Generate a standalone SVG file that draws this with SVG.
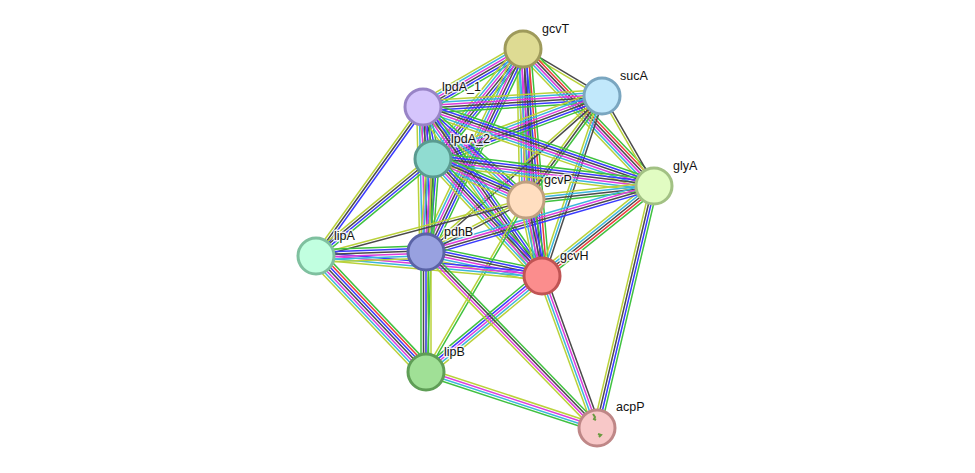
<svg xmlns="http://www.w3.org/2000/svg" width="975" height="473" viewBox="0 0 975 473">
<style>
line{stroke-width:1.2;fill:none}
.g{stroke:#3fc13f}.r{stroke:#ee3b3b}.b{stroke:#3a3aff}.k{stroke:#4a4a4a}.m{stroke:#dc3cdc}.c{stroke:#3cb6dc}.y{stroke:#bad23a}
.n circle{stroke-width:3}
text{font-family:"Liberation Sans",Arial,sans-serif;font-size:12.5px;fill:#111;stroke:#fff;stroke-width:3;stroke-opacity:0.8;paint-order:stroke;stroke-linejoin:round}
</style>
<rect width="975" height="473" fill="#fff"/>
<g id="edges">
<g transform="translate(523 49) rotate(30.75) scale(1 1.25)"><line x2="91.9" y1="-1" y2="-1" class="k"/><line x2="91.9" y1="1" y2="1" class="y"/></g>
<g transform="translate(523 49) rotate(46.28) scale(1 1.25)"><line x2="189.6" y1="-5" y2="-5" class="g"/><line x2="189.6" y1="-3" y2="-3" class="r"/><line x2="189.6" y1="-1" y2="-1" class="k"/><line x2="189.6" y1="1" y2="1" class="m"/><line x2="189.6" y1="3" y2="3" class="c"/><line x2="189.6" y1="5" y2="5" class="y"/></g>
<g transform="translate(523 49) rotate(149.89) scale(1 1.25)"><line x2="115.6" y1="-5" y2="-5" class="g"/><line x2="115.6" y1="-3" y2="-3" class="b"/><line x2="115.6" y1="-1" y2="-1" class="k"/><line x2="115.6" y1="1" y2="1" class="m"/><line x2="115.6" y1="3" y2="3" class="c"/><line x2="115.6" y1="5" y2="5" class="y"/></g>
<g transform="translate(523 49) rotate(129.29) scale(1 1.25)"><line x2="142.1" y1="-5" y2="-5" class="g"/><line x2="142.1" y1="-3" y2="-3" class="b"/><line x2="142.1" y1="-1" y2="-1" class="k"/><line x2="142.1" y1="1" y2="1" class="m"/><line x2="142.1" y1="3" y2="3" class="c"/><line x2="142.1" y1="5" y2="5" class="y"/></g>
<g transform="translate(523 49) rotate(88.86) scale(1 1.25)"><line x2="151" y1="-5" y2="-5" class="g"/><line x2="151" y1="-3" y2="-3" class="b"/><line x2="151" y1="-1" y2="-1" class="k"/><line x2="151" y1="1" y2="1" class="m"/><line x2="151" y1="3" y2="3" class="c"/><line x2="151" y1="5" y2="5" class="y"/></g>
<g transform="translate(523 49) rotate(85.22) scale(1 1.25)"><line x2="227.8" y1="-6" y2="-6" class="g"/><line x2="227.8" y1="-4" y2="-4" class="r"/><line x2="227.8" y1="-2" y2="-2" class="b"/><line x2="227.8" class="k"/><line x2="227.8" y1="2" y2="2" class="m"/><line x2="227.8" y1="4" y2="4" class="c"/><line x2="227.8" y1="6" y2="6" class="y"/></g>
<g transform="translate(523 49) rotate(115.54) scale(1 1.25)"><line x2="225" y1="-5" y2="-5" class="g"/><line x2="225" y1="-3" y2="-3" class="b"/><line x2="225" y1="-1" y2="-1" class="k"/><line x2="225" y1="1" y2="1" class="m"/><line x2="225" y1="3" y2="3" class="c"/><line x2="225" y1="5" y2="5" class="y"/></g>
<g transform="translate(602 96) rotate(176.48) scale(1 1.25)"><line x2="179.3" y1="-5" y2="-5" class="g"/><line x2="179.3" y1="-3" y2="-3" class="b"/><line x2="179.3" y1="-1" y2="-1" class="k"/><line x2="179.3" y1="1" y2="1" class="m"/><line x2="179.3" y1="3" y2="3" class="c"/><line x2="179.3" y1="5" y2="5" class="y"/></g>
<g transform="translate(602 96) rotate(159.55) scale(1 1.25)"><line x2="180.4" y1="-5" y2="-5" class="g"/><line x2="180.4" y1="-3" y2="-3" class="b"/><line x2="180.4" y1="-1" y2="-1" class="k"/><line x2="180.4" y1="1" y2="1" class="m"/><line x2="180.4" y1="3" y2="3" class="c"/><line x2="180.4" y1="5" y2="5" class="y"/></g>
<g transform="translate(602 96) rotate(59.98) scale(1 1.25)"><line x2="103.9" y1="-1" y2="-1" class="k"/><line x2="103.9" y1="1" y2="1" class="y"/></g>
<g transform="translate(602 96) rotate(126.16) scale(1 1.25)"><line x2="128.8" y1="-2" y2="-2" class="g"/><line x2="128.8" class="k"/><line x2="128.8" y1="2" y2="2" class="y"/></g>
<g transform="translate(602 96) rotate(108.43) scale(1 1.25)"><line x2="189.7" y1="-2" y2="-2" class="k"/><line x2="189.7" class="c"/><line x2="189.7" y1="2" y2="2" class="y"/></g>
<g transform="translate(602 96) rotate(138.45) scale(1 1.25)"><line x2="235.2" y1="-1" y2="-1" class="k"/><line x2="235.2" y1="1" y2="1" class="y"/></g>
<g transform="translate(423 107) rotate(79.11) scale(1 1.25)"><line x2="53" y1="-5" y2="-5" class="g"/><line x2="53" y1="-3" y2="-3" class="b"/><line x2="53" y1="-1" y2="-1" class="k"/><line x2="53" y1="1" y2="1" class="m"/><line x2="53" y1="3" y2="3" class="c"/><line x2="53" y1="5" y2="5" class="y"/></g>
<g transform="translate(423 107) rotate(18.88) scale(1 1.25)"><line x2="244.1" y1="-5" y2="-5" class="g"/><line x2="244.1" y1="-3" y2="-3" class="b"/><line x2="244.1" y1="-1" y2="-1" class="k"/><line x2="244.1" y1="1" y2="1" class="m"/><line x2="244.1" y1="3" y2="3" class="c"/><line x2="244.1" y1="5" y2="5" class="y"/></g>
<g transform="translate(423 107) rotate(42.08) scale(1 1.25)"><line x2="138.8" y1="-4" y2="-4" class="g"/><line x2="138.8" y1="-2" y2="-2" class="b"/><line x2="138.8" class="m"/><line x2="138.8" y1="2" y2="2" class="c"/><line x2="138.8" y1="4" y2="4" class="y"/></g>
<g transform="translate(423 107) rotate(54.85) scale(1 1.25)"><line x2="206.7" y1="-5" y2="-5" class="g"/><line x2="206.7" y1="-3" y2="-3" class="b"/><line x2="206.7" y1="-1" y2="-1" class="k"/><line x2="206.7" y1="1" y2="1" class="m"/><line x2="206.7" y1="3" y2="3" class="c"/><line x2="206.7" y1="5" y2="5" class="y"/></g>
<g transform="translate(423 107) rotate(88.81) scale(1 1.25)"><line x2="145" y1="-5" y2="-5" class="g"/><line x2="145" y1="-3" y2="-3" class="b"/><line x2="145" y1="-1" y2="-1" class="k"/><line x2="145" y1="1" y2="1" class="m"/><line x2="145" y1="3" y2="3" class="c"/><line x2="145" y1="5" y2="5" class="y"/></g>
<g transform="translate(423 107) rotate(125.68) scale(1 1.25)"><line x2="183.4" y1="-2" y2="-2" class="b"/><line x2="183.4" class="k"/><line x2="183.4" y1="2" y2="2" class="y"/></g>
<g transform="translate(433 159) rotate(6.97) scale(1 1.25)"><line x2="222.6" y1="-5" y2="-5" class="g"/><line x2="222.6" y1="-3" y2="-3" class="b"/><line x2="222.6" y1="-1" y2="-1" class="k"/><line x2="222.6" y1="1" y2="1" class="m"/><line x2="222.6" y1="3" y2="3" class="c"/><line x2="222.6" y1="5" y2="5" class="y"/></g>
<g transform="translate(433 159) rotate(23.79) scale(1 1.25)"><line x2="101.6" y1="-5" y2="-5" class="g"/><line x2="101.6" y1="-3" y2="-3" class="b"/><line x2="101.6" y1="-1" y2="-1" class="k"/><line x2="101.6" y1="1" y2="1" class="m"/><line x2="101.6" y1="3" y2="3" class="c"/><line x2="101.6" y1="5" y2="5" class="y"/></g>
<g transform="translate(433 159) rotate(47.03) scale(1 1.25)"><line x2="159.9" y1="-5" y2="-5" class="g"/><line x2="159.9" y1="-3" y2="-3" class="b"/><line x2="159.9" y1="-1" y2="-1" class="k"/><line x2="159.9" y1="1" y2="1" class="m"/><line x2="159.9" y1="3" y2="3" class="c"/><line x2="159.9" y1="5" y2="5" class="y"/></g>
<g transform="translate(433 159) rotate(94.3) scale(1 1.25)"><line x2="93.3" y1="-5" y2="-5" class="g"/><line x2="93.3" y1="-3" y2="-3" class="b"/><line x2="93.3" y1="-1" y2="-1" class="k"/><line x2="93.3" y1="1" y2="1" class="m"/><line x2="93.3" y1="3" y2="3" class="c"/><line x2="93.3" y1="5" y2="5" class="y"/></g>
<g transform="translate(433 159) rotate(140.34) scale(1 1.25)"><line x2="152" y1="-3" y2="-3" class="g"/><line x2="152" y1="-1" y2="-1" class="b"/><line x2="152" y1="1" y2="1" class="k"/><line x2="152" y1="3" y2="3" class="y"/></g>
<g transform="translate(433 159) rotate(91.88) scale(1 1.25)"><line x2="213.1" y1="-1" y2="-1" class="g"/><line x2="213.1" y1="1" y2="1" class="y"/></g>
<g transform="translate(654 186) rotate(173.76) scale(1 1.25)"><line x2="128.8" y1="-3" y2="-3" class="g"/><line x2="128.8" y1="-1" y2="-1" class="k"/><line x2="128.8" y1="1" y2="1" class="c"/><line x2="128.8" y1="3" y2="3" class="y"/></g>
<g transform="translate(654 186) rotate(141.21) scale(1 1.25)"><line x2="143.7" y1="-4" y2="-4" class="g"/><line x2="143.7" y1="-2" y2="-2" class="r"/><line x2="143.7" class="k"/><line x2="143.7" y1="2" y2="2" class="c"/><line x2="143.7" y1="4" y2="4" class="y"/></g>
<g transform="translate(654 186) rotate(103.25) scale(1 1.25)"><line x2="248.6" y1="-3" y2="-3" class="g"/><line x2="248.6" y1="-1" y2="-1" class="b"/><line x2="248.6" y1="1" y2="1" class="k"/><line x2="248.6" y1="3" y2="3" class="y"/></g>
<g transform="translate(654 186) rotate(163.86) scale(1 1.25)"><line x2="237.4" y1="-3" y2="-3" class="b"/><line x2="237.4" y1="-1" y2="-1" class="k"/><line x2="237.4" y1="1" y2="1" class="m"/><line x2="237.4" y1="3" y2="3" class="c"/></g>
<g transform="translate(526 200) rotate(78.11) scale(1 1.25)"><line x2="77.7" y1="-5" y2="-5" class="g"/><line x2="77.7" y1="-3" y2="-3" class="b"/><line x2="77.7" y1="-1" y2="-1" class="k"/><line x2="77.7" y1="1" y2="1" class="m"/><line x2="77.7" y1="3" y2="3" class="c"/><line x2="77.7" y1="5" y2="5" class="y"/></g>
<g transform="translate(526 200) rotate(152.53) scale(1 1.25)"><line x2="112.7" y1="-1" y2="-1" class="k"/><line x2="112.7" y1="1" y2="1" class="y"/></g>
<g transform="translate(526 200) rotate(165.07) scale(1 1.25)"><line x2="217.3" y1="-1" y2="-1" class="k"/><line x2="217.3" y1="1" y2="1" class="y"/></g>
<g transform="translate(526 200) rotate(120.17) scale(1 1.25)"><line x2="199" y1="-1" y2="-1" class="g"/><line x2="199" y1="1" y2="1" class="y"/></g>
<g transform="translate(426 252) rotate(11.69) scale(1 1.25)"><line x2="118.5" y1="-5" y2="-5" class="g"/><line x2="118.5" y1="-3" y2="-3" class="b"/><line x2="118.5" y1="-1" y2="-1" class="k"/><line x2="118.5" y1="1" y2="1" class="m"/><line x2="118.5" y1="3" y2="3" class="c"/><line x2="118.5" y1="5" y2="5" class="y"/></g>
<g transform="translate(316 256) rotate(5.06) scale(1 1.25)"><line x2="226.9" y1="-3" y2="-3" class="b"/><line x2="226.9" y1="-1" y2="-1" class="m"/><line x2="226.9" y1="1" y2="1" class="c"/><line x2="226.9" y1="3" y2="3" class="y"/></g>
<g transform="translate(426 372) rotate(-39.61) scale(1 1.25)"><line x2="150.6" y1="-4" y2="-4" class="g"/><line x2="150.6" y1="-2" y2="-2" class="b"/><line x2="150.6" class="m"/><line x2="150.6" y1="2" y2="2" class="c"/><line x2="150.6" y1="4" y2="4" class="y"/></g>
<g transform="translate(542 276) rotate(70.11) scale(1 1.25)"><line x2="161.6" y1="-3" y2="-3" class="k"/><line x2="161.6" y1="-1" y2="-1" class="m"/><line x2="161.6" y1="1" y2="1" class="c"/><line x2="161.6" y1="3" y2="3" class="y"/></g>
<g transform="translate(426 252) rotate(90) scale(1 1.25)"><line x2="120" y1="-4" y2="-4" class="y"/><line x2="120" y1="-2" y2="-2" class="g"/><line x2="120" class="b"/><line x2="120" y1="2" y2="2" class="k"/><line x2="120" y1="4" y2="4" class="g"/></g>
<g transform="translate(316 256) rotate(-2.08) scale(1 1.25)"><line x2="110.1" y1="-5" y2="-5" class="g"/><line x2="110.1" y1="-3" y2="-3" class="b"/><line x2="110.1" y1="-1" y2="-1" class="k"/><line x2="110.1" y1="1" y2="1" class="m"/><line x2="110.1" y1="3" y2="3" class="c"/><line x2="110.1" y1="5" y2="5" class="y"/></g>
<g transform="translate(426 252) rotate(45.83) scale(1 1.25)"><line x2="245.4" y1="-3" y2="-3" class="g"/><line x2="245.4" y1="-1" y2="-1" class="k"/><line x2="245.4" y1="1" y2="1" class="m"/><line x2="245.4" y1="3" y2="3" class="y"/></g>
<g transform="translate(316 256) rotate(46.52) scale(1 1.25)"><line x2="159.9" y1="-6" y2="-6" class="g"/><line x2="159.9" y1="-4" y2="-4" class="r"/><line x2="159.9" y1="-2" y2="-2" class="b"/><line x2="159.9" class="k"/><line x2="159.9" y1="2" y2="2" class="m"/><line x2="159.9" y1="4" y2="4" class="c"/><line x2="159.9" y1="6" y2="6" class="y"/></g>
<g transform="translate(426 372) rotate(18.13) scale(1 1.25)"><line x2="179.9" y1="-3" y2="-3" class="y"/><line x2="179.9" y1="-1" y2="-1" class="m"/><line x2="179.9" y1="1" y2="1" class="c"/><line x2="179.9" y1="3" y2="3" class="g"/></g>
</g>
<g id="gcvT" class="n"><circle cx="523" cy="49" r="18" fill="#dedb93" stroke="#9e9a5b"/><text x="542" y="33">gcvT</text></g>
<g id="sucA" class="n"><circle cx="602" cy="96" r="18" fill="#c1e8fb" stroke="#7aa6c0"/><text x="620" y="80">sucA</text></g>
<g id="lpdA_1" class="n"><circle cx="423" cy="107" r="18" fill="#d5c5fc" stroke="#9884c6"/><text x="442" y="91">lpdA_1</text></g>
<g id="lpdA_2" class="n"><circle cx="433" cy="159" r="18" fill="#90dcd1" stroke="#5a9a90"/><text x="451" y="143">lpdA_2</text></g>
<g id="glyA" class="n"><circle cx="654" cy="186" r="18" fill="#e1fcc2" stroke="#a2c184"/><text x="673" y="170">glyA</text></g>
<g id="gcvP" class="n"><circle cx="526" cy="200" r="18" fill="#ffdec0" stroke="#c0a080"/><text x="544" y="184">gcvP</text></g>
<g id="lipA" class="n"><circle cx="316" cy="256" r="18" fill="#c1ffe0" stroke="#7fc09f"/><text x="334" y="240">lipA</text></g>
<g id="pdhB" class="n"><circle cx="426" cy="252" r="18" fill="#98a1e0" stroke="#5a63a6"/><text x="444" y="236">pdhB</text></g>
<g id="gcvH" class="n"><circle cx="542" cy="276" r="18" fill="#fb8d8d" stroke="#c05454"/><text x="560" y="260">gcvH</text></g>
<g id="lipB" class="n"><circle cx="426" cy="372" r="18" fill="#a0e096" stroke="#5f9e56"/><text x="444" y="356">lipB</text></g>
<g id="acpP" class="n"><circle cx="597" cy="428" r="18" fill="#f8c8c8" stroke="#bf8787"/><path d="M593 414l2 3-1 2 2 1M598 434l3 1-2 2" fill="none" stroke="#6a9a40" stroke-width="2"/><text x="616" y="411">acpP</text></g>
</svg>
